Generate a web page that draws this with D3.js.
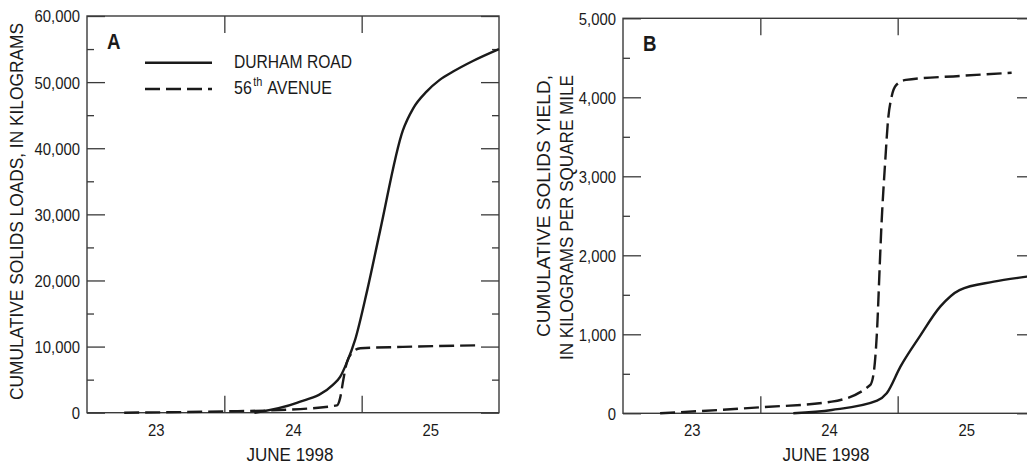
<!DOCTYPE html>
<html><head><meta charset="utf-8">
<script src="https://cdn.jsdelivr.net/npm/d3@7"></script>
<style>
body{margin:0;background:#fff;}
svg{display:block;}
</style></head><body>
<svg id="chart" width="1027" height="468"></svg>
<script>
// ---------- DATA ----------
const xDomain = ["1998-06-23T00:00", "1998-06-26T00:00"];
const dayBoundaries = ["1998-06-24T00:00", "1998-06-25T00:00"];
const dayLabelTimes = ["1998-06-23T12:00", "1998-06-24T12:00", "1998-06-25T12:00"];
const dayLabels = ["23", "24", "25"];
const xTitle = "JUNE 1998";

const loadTicks = [0, 10000, 20000, 30000, 40000, 50000, 60000];
const loadMinorTicks = [5000, 15000, 25000, 35000, 45000, 55000];
const yieldTicks = [0, 1000, 2000, 3000, 4000, 5000];
const yieldMinorTicks = [500, 1500, 2500, 3500, 4500];

const seriesNames = ["DURHAM ROAD", "56th AVENUE"];

// Panel A: cumulative solids loads, kilograms
const aDurhamTimes = ["1998-06-24T05:15","1998-06-24T12:40","1998-06-24T18:58","1998-06-24T20:14","1998-06-24T21:22","1998-06-24T22:51","1998-06-25T00:58","1998-06-25T03:13","1998-06-25T07:12","1998-06-25T08:59","1998-06-25T11:23","1998-06-25T13:35","1998-06-25T15:59","1998-06-25T19:26","1998-06-26T00:00"];
const aDurhamLoads = [0, 1500, 4200, 5400, 7500, 11000, 18500, 27500, 42700, 46000, 48600, 50300, 51600, 53200, 55000];
const aAvenueTimes = ["1998-06-23T06:30","1998-06-24T00:00","1998-06-24T09:36","1998-06-24T19:41","1998-06-24T20:14","1998-06-24T20:48","1998-06-24T21:22","1998-06-24T22:16","1998-06-24T23:46","1998-06-25T07:12","1998-06-25T20:41"];
const aAvenueLoads = [0, 200, 400, 1100, 2200, 5000, 7500, 9000, 9750, 9950, 10200];

// Panel B: cumulative solids yield, kilograms per square mile
const bDurhamTimes = ["1998-06-24T05:46","1998-06-24T12:29","1998-06-24T20:24","1998-06-24T22:05","1998-06-25T00:29","1998-06-25T03:50","1998-06-25T07:26","1998-06-25T10:48","1998-06-25T16:48","1998-06-25T22:34","1998-06-26T00:00"];
const bDurhamYields = [0, 42, 160, 253, 590, 970, 1350, 1560, 1666, 1730, 1745];
const bAvenueTimes = ["1998-06-23T06:29","1998-06-24T00:00","1998-06-24T12:29","1998-06-24T19:12","1998-06-24T19:48","1998-06-24T20:24","1998-06-24T20:53","1998-06-24T21:07","1998-06-24T21:50","1998-06-24T22:19","1998-06-24T22:57","1998-06-24T23:46","1998-06-25T01:26","1998-06-25T10:48","1998-06-25T19:55"];
const bAvenueYields = [0, 76, 147, 358, 506, 1055, 1900, 2300, 3200, 3710, 4010, 4157, 4220, 4270, 4310];

// ---------- DRAWING ----------
const parse = d3.timeParse("%Y-%m-%dT%H:%M");
const FONT = "'Liberation Sans', Arial, Helvetica, sans-serif";
const INK = "#1a1a1a";
const FRAME = "#3a3a3a";
const svg = d3.select("#chart");

function zip(ts, vs) { return ts.map((t, i) => ({t: parse(t), v: vs[i]})); }

// emulate a condensed face by compressing glyphs horizontally
function narrow(sel, f) {
  sel.each(function() {
    const w = this.getComputedTextLength();
    d3.select(this).attr("textLength", w * f).attr("lengthAdjust", "spacingAndGlyphs");
  });
}

function panel(cfg) {
  const x = d3.scaleTime().domain(xDomain.map(parse)).range([cfg.left, cfg.right]);
  const y = d3.scaleLinear().domain([0, cfg.max]).range([cfg.bottom, cfg.top]);
  const g = svg.append("g");

  g.append("rect").attr("x", cfg.left).attr("y", cfg.top)
    .attr("width", cfg.right - cfg.left).attr("height", cfg.bottom - cfg.top)
    .attr("fill", "none").attr("stroke", FRAME).attr("stroke-width", 1.4);

  const tickStyle = sel => { sel.select(".domain").remove(); sel.selectAll("line").attr("stroke", FRAME).attr("stroke-width", 1.3); };

  g.append("g").attr("transform", `translate(${cfg.left},0)`)
    .call(d3.axisLeft(y).tickValues(cfg.ticks).tickSize(-18).tickFormat("")).call(tickStyle);
  g.append("g").attr("transform", `translate(${cfg.left},0)`)
    .call(d3.axisLeft(y).tickValues(cfg.minor).tickSize(-7).tickFormat("")).call(tickStyle);
  g.append("g").attr("transform", `translate(${cfg.right},0)`)
    .call(d3.axisRight(y).tickValues(cfg.ticks).tickSize(-18).tickFormat("")).call(tickStyle);
  g.append("g").attr("transform", `translate(${cfg.right},0)`)
    .call(d3.axisRight(y).tickValues(cfg.minor).tickSize(-7).tickFormat("")).call(tickStyle);
  g.append("g").attr("transform", `translate(0,${cfg.top})`)
    .call(d3.axisTop(x).tickValues(dayBoundaries.map(parse)).tickSize(-17).tickFormat("")).call(tickStyle);
  g.append("g").attr("transform", `translate(0,${cfg.bottom})`)
    .call(d3.axisBottom(x).tickValues(dayBoundaries.map(parse)).tickSize(-17).tickFormat("")).call(tickStyle);

  const yl = g.append("g").attr("transform", `translate(${cfg.left},0)`)
    .call(d3.axisLeft(y).tickValues(cfg.ticks).tickSize(0).tickPadding(7).tickFormat(d3.format(",")));
  yl.select(".domain").remove();
  yl.attr("font-family", null).attr("font-size", null);
  yl.selectAll("text").attr("font-family", FONT).attr("font-size", 16.5).attr("fill", INK)
    .attr("dy", "0.36em").call(narrow, 0.9);

  const xl = g.append("g").attr("transform", `translate(0,${cfg.bottom})`)
    .call(d3.axisBottom(x).tickValues(dayLabelTimes.map(parse)).tickSize(0).tickPadding(0)
      .tickFormat((d, i) => dayLabels[i]));
  xl.select(".domain").remove();
  xl.attr("font-family", null).attr("font-size", null);
  xl.selectAll("text").attr("font-family", FONT).attr("font-size", 16.5).attr("fill", INK)
    .attr("dy", null).attr("y", 23).call(narrow, 0.9);

  g.append("text").attr("x", (cfg.left + cfg.right) / 2 - 3).attr("y", cfg.bottom + 48)
    .attr("text-anchor", "middle").attr("font-family", FONT).attr("font-size", 18).attr("fill", INK)
    .attr("textLength", 87).attr("lengthAdjust", "spacingAndGlyphs").text(xTitle);

  g.append("text").attr("x", cfg.left + 20).attr("y", cfg.top + 33)
    .attr("font-family", FONT).attr("font-weight", "bold").attr("font-size", 22).attr("fill", INK)
    .text(cfg.letter).call(narrow, 0.85);

  const line = d3.line().x(d => x(d.t)).y(d => y(d.v)).curve(d3.curveMonotoneX);
  g.append("path").datum(cfg.solid).attr("d", line).attr("fill", "none")
    .attr("stroke", INK).attr("stroke-width", 2.4).attr("stroke-linejoin", "round");
  g.append("path").datum(cfg.dashed).attr("d", line).attr("fill", "none")
    .attr("stroke", INK).attr("stroke-width", 2.4).attr("stroke-dasharray", "15,6");

  cfg.titles.forEach(tt => {
    g.append("text").attr("transform", `translate(${tt.x},${tt.cy}) rotate(-90)`)
      .attr("text-anchor", "middle").attr("font-family", FONT).attr("font-size", 17.5).attr("fill", INK)
      .attr("textLength", tt.len).attr("lengthAdjust", "spacingAndGlyphs").text(tt.text);
  });
  return {x, y};
}

panel({
  letter: "A", left: 87, right: 499, top: 16, bottom: 412.7, max: 60000,
  ticks: loadTicks, minor: loadMinorTicks,
  solid: zip(aDurhamTimes, aDurhamLoads), dashed: zip(aAvenueTimes, aAvenueLoads),
  titles: [{text: "CUMULATIVE SOLIDS LOADS, IN KILOGRAMS", x: 23, cy: 211.5, len: 377}]
});
panel({
  letter: "B", left: 623, right: 1035, top: 18.3, bottom: 413.3, max: 5000,
  ticks: yieldTicks, minor: yieldMinorTicks,
  solid: zip(bDurhamTimes, bDurhamYields), dashed: zip(bAvenueTimes, bAvenueYields),
  titles: [
    {text: "CUMULATIVE SOLIDS YIELD,", x: 550, cy: 206, len: 262},
    {text: "IN KILOGRAMS PER SQUARE MILE", x: 573, cy: 217.5, len: 285}
  ]
});

// legend (panel A)
const lg = svg.append("g");
lg.append("line").attr("x1", 145).attr("x2", 212).attr("y1", 62.7).attr("y2", 62.7)
  .attr("stroke", INK).attr("stroke-width", 2.4);
lg.append("line").attr("x1", 145).attr("x2", 212).attr("y1", 89).attr("y2", 89)
  .attr("stroke", INK).attr("stroke-width", 2.4).attr("stroke-dasharray", "15,6");
lg.append("text").attr("x", 234).attr("y", 68).attr("font-family", FONT).attr("font-size", 19)
  .attr("fill", INK).attr("textLength", 118).attr("lengthAdjust", "spacingAndGlyphs").text(seriesNames[0]);
// "56th AVENUE" as three adjacent pieces (superscript "th")
const m = seriesNames[1].match(/^(\d+)(th)\s*(.*)$/);
let cx = 234;
[[m[1], 19, 94, 1.5], [m[2], 13, 86, 5], [m[3], 19, 94, 0]].forEach(p => {
  const t = lg.append("text").attr("x", cx).attr("y", p[2]).attr("font-family", FONT)
    .attr("font-size", p[1]).attr("fill", INK).text(p[0]);
  const w = t.node().getComputedTextLength() * 0.84;
  t.attr("textLength", w).attr("lengthAdjust", "spacingAndGlyphs");
  cx += w + p[3];
});
</script>
</body></html>
